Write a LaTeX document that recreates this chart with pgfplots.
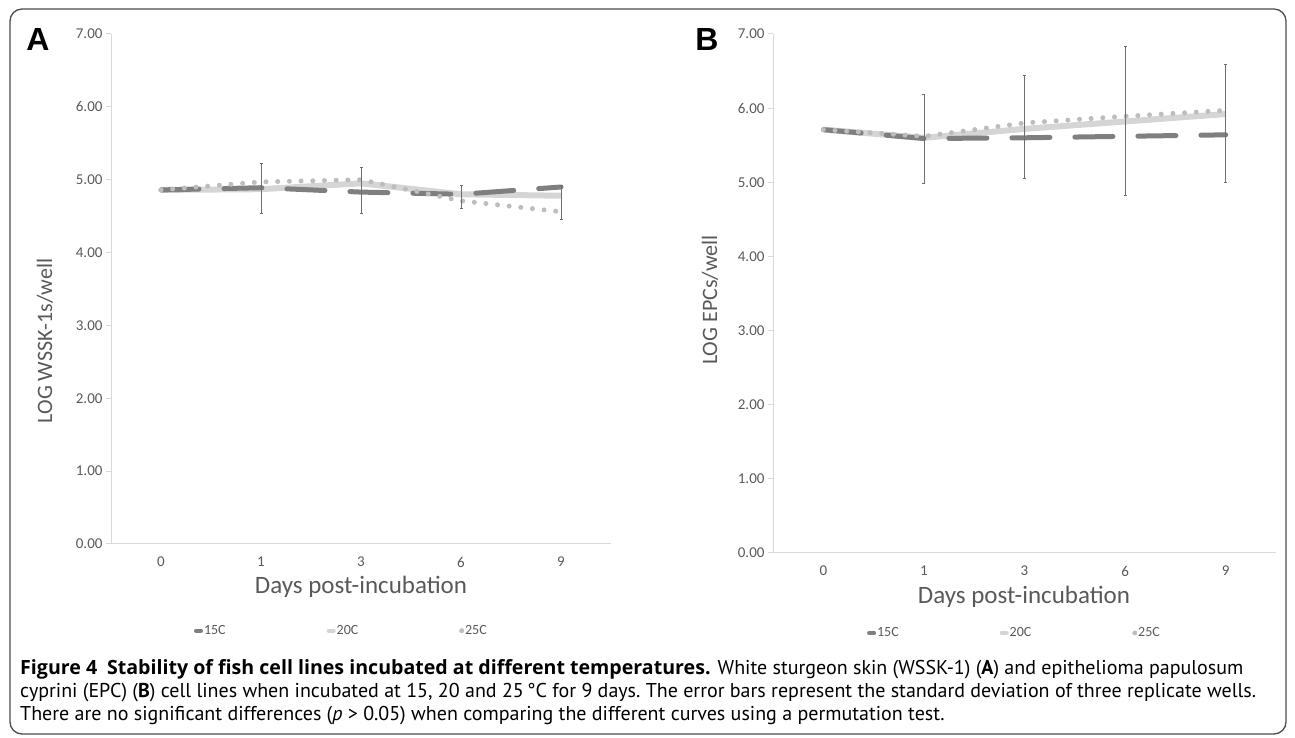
\documentclass[border=0pt]{standalone}
\usepackage{pgfplots}
\pgfplotsset{compat=1.18}
\usepackage{fontspec}
\setmainfont{Carlito}
\newfontfamily\capfont{PT Sans}
\newfontfamily\headfont{Open Sans}
\newfontfamily\letterfont{Liberation Sans}
\definecolor{c15}{HTML}{7F7F7F}
\definecolor{c20}{HTML}{D5D5D5}
\definecolor{c25}{HTML}{BDBDBD}
\definecolor{axgray}{HTML}{D9D9D9}
\definecolor{txtgray}{HTML}{595959}
\definecolor{errgray}{HTML}{6E6E6E}

\pgfplotsset{
  panel/.style={
    scale only axis,
    axis x line*=bottom, axis y line*=left,
    axis line style={axgray, line width=1pt},
    xmin=-0.5, xmax=4.5, ymin=0, ymax=7,
    xtick={0,1,2,3,4}, xticklabels={0,1,3,6,9},
    ytick={0,1,...,7},
    xtick style={draw=none},
    ytick style={axgray, line width=1pt},
    tick align=outside, major tick length=5pt,
    /pgf/number format/.cd, fixed, fixed zerofill, precision=2, assume math mode=true,
    /pgfplots/.cd,
    yticklabel style={font=\fontsize{15}{15}\selectfont, text=txtgray},
    xticklabel style={font=\fontsize{15}{15}\selectfont, text=txtgray, anchor=center, yshift=-13pt},
    clip=false,
    legend columns=3,
    legend style={draw=none, fill=none, inner sep=0pt, outer sep=0pt,
      font=\fontsize{14}{14}\selectfont, text=txtgray,
      nodes={inner sep=1pt}},
    legend cell align=left,
    /tikz/every even column/.append style={column sep=100pt},
  },
  l15/.style={c15, line width=5pt, line cap=round, dash pattern=on 38pt off 25pt},
  l20/.style={c20, line width=6pt},
  l25/.style={c25, line width=5pt, line cap=round, dash pattern=on 0pt off 11.7pt},
  eb/.style={draw=none, mark=none, forget plot,
    error bars/.cd, y dir=both, y explicit,
    error bar style={draw=errgray, line width=0.8pt, solid},
    error mark options={draw=errgray, line width=0.6pt, mark size=1.5pt, rotate=90}},
}

\begin{document}
\begin{tikzpicture}[x=1pt,y=1pt]
\useasboundingbox (0,0) rectangle (1295,738);
\draw[rounded corners=12pt, line width=1.3pt, black!70] (10,4) rectangle (1286,729);

% Panel A
\begin{axis}[panel, at={(111pt,194pt)}, anchor=south west, width=500pt, height=510pt,
  legend style={at={(0.166,-0.17)}, anchor=west}]
\addlegendimage{legend image code/.code={\draw[c15, line width=4pt, line cap=round] (0pt,0pt) -- (5pt,0pt);}}
\addlegendentry{15C}
\addlegendimage{legend image code/.code={\draw[c20, line width=4pt, line cap=round] (0pt,0pt) -- (5pt,0pt);}}
\addlegendentry{20C}
\addlegendimage{legend image code/.code={\fill[c25] (2.5pt,0pt) circle (2.2pt);}}
\addlegendentry{25C}
\addplot[l20, forget plot] coordinates {(0,4.86) (1,4.87) (2,4.95) (3,4.80) (4,4.78)};
\addplot[l15, forget plot] coordinates {(0,4.86) (1,4.89) (2,4.83) (3,4.80) (4,4.90)};
\addplot[l25, forget plot] coordinates {(0,4.86) (1,4.97) (2,5.00) (3,4.71) (4,4.56)};
\addplot[eb] coordinates {(1,4.88) +- (0,0.34) (2,4.855) +- (0,0.315) (3,4.765) +- (0,0.155) (4,4.69) +- (0,0.23)};
\end{axis}

% Panel B
\begin{axis}[panel, at={(773pt,185pt)}, anchor=south west, width=503pt, height=519pt,
  legend style={at={(0.187,-0.154)}, anchor=west}]
\addlegendimage{legend image code/.code={\draw[c15, line width=4pt, line cap=round] (0pt,0pt) -- (5pt,0pt);}}
\addlegendentry{15C}
\addlegendimage{legend image code/.code={\draw[c20, line width=4pt, line cap=round] (0pt,0pt) -- (5pt,0pt);}}
\addlegendentry{20C}
\addlegendimage{legend image code/.code={\fill[c25] (2.5pt,0pt) circle (2.2pt);}}
\addlegendentry{25C}
\addplot[l20, forget plot] coordinates {(0,5.71) (1,5.60) (2,5.72) (3,5.82) (4,5.92)};
\addplot[l15, forget plot] coordinates {(0,5.71) (1,5.59) (2,5.60) (3,5.62) (4,5.64)};
\addplot[l25, forget plot] coordinates {(0,5.71) (1,5.62) (2,5.80) (3,5.89) (4,5.97)};
\addplot[eb] coordinates {(1,5.585) +- (0,0.595) (2,5.745) +- (0,0.695) (3,5.83) +- (0,1.01) (4,5.795) +- (0,0.795)};
\end{axis}

% panel letters
\node[font=\letterfont\bfseries\fontsize{32}{32}\selectfont] at (38,698) {A};
\node[font=\letterfont\bfseries\fontsize{32}{32}\selectfont] at (707,698) {B};

% axis titles
\node[rotate=90, font=\fontsize{22}{22}\selectfont, text=txtgray] at (45,397) {LOG WSSK-1s/well};
\node[rotate=90, font=\fontsize{22}{22}\selectfont, text=txtgray] at (710,438) {LOG EPCs/well};
\node[font=\fontsize{25}{25}\selectfont, text=txtgray] at (361,151) {Days post-incubation};
\node[font=\fontsize{25}{25}\selectfont, text=txtgray] at (1024,141) {Days post-incubation};

% caption
\node[anchor=base west, font=\capfont\fontsize{20}{20}\selectfont, inner sep=0pt] at (20,63)
  {{\headfont\bfseries\fontsize{19.6}{19.6}\selectfont Figure 4\enspace Stability of fish cell lines incubated at different temperatures.} White sturgeon skin (WSSK-1) (\textbf{A}) and epithelioma papulosum};
\node[anchor=base west, font=\capfont\fontsize{20}{20}\selectfont, inner sep=0pt] at (20,40)
  {\frenchspacing cyprini (EPC) (\textbf{B}) cell lines when incubated at 15, 20 and 25\,°C for 9 days. The error bars represent the standard deviation of three replicate wells.};
\node[anchor=base west, font=\capfont\fontsize{20}{20}\selectfont, inner sep=0pt] at (20,17)
  {There are no significant differences (\textit{p} > 0.05) when comparing the different curves using a permutation test.};
\end{tikzpicture}
\end{document}
